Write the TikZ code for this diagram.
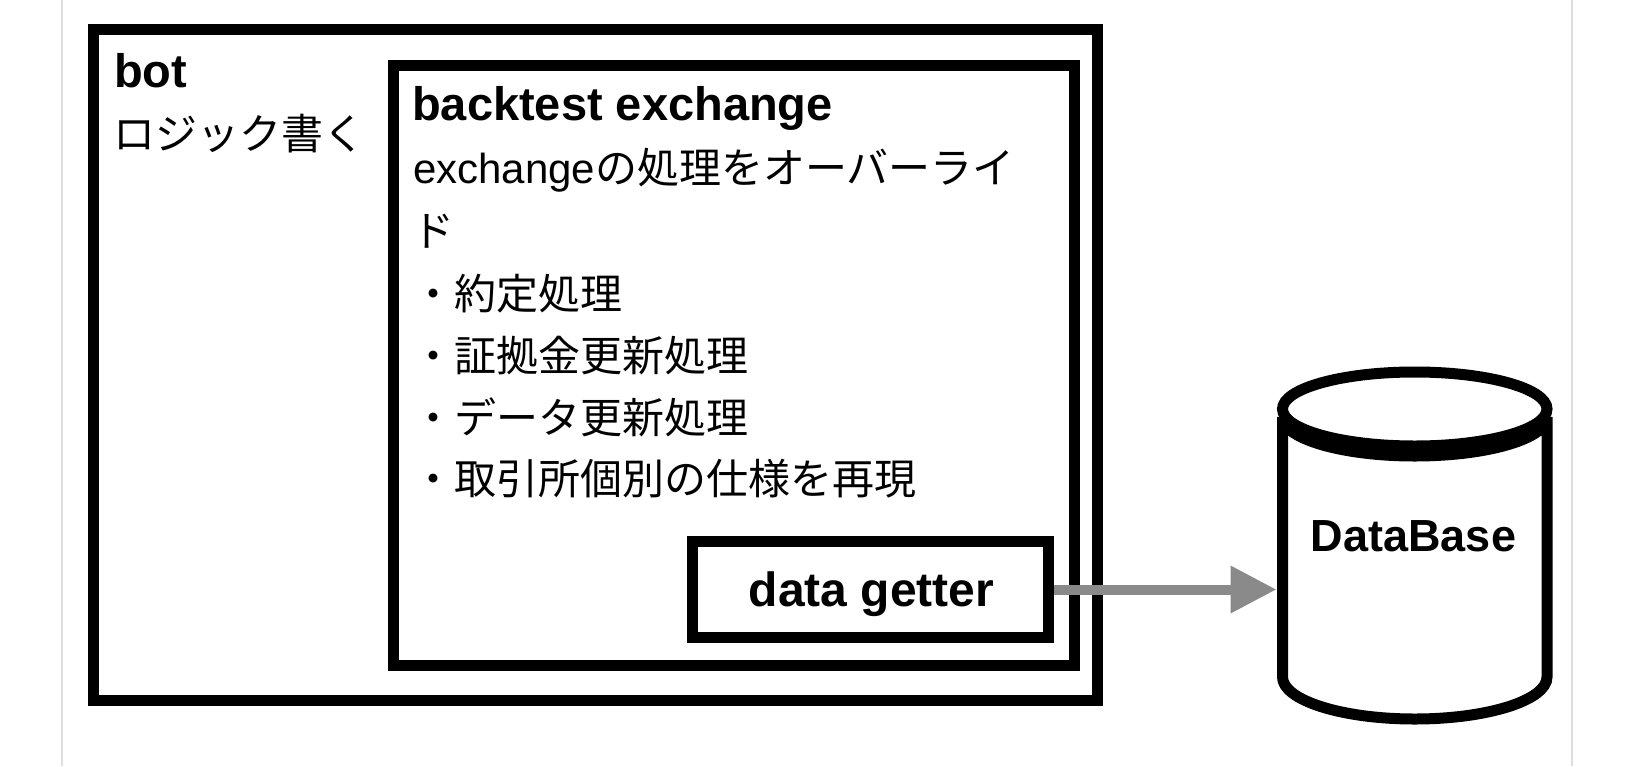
\documentclass[tikz,border=0pt]{standalone}
\usepackage{fontspec}
\setmainfont{Liberation Sans}
\newfontfamily\jp{Noto Sans CJK JP}
\usetikzlibrary{arrows.meta}
\definecolor{arrowgray}{HTML}{8A8A8A}
\definecolor{framegray}{HTML}{DDDDDD}
\tikzset{
  boxthick/.style={draw=black, line width=11pt, fill=white, rectangle, inner sep=0pt},
  txt/.style={inner sep=0pt, anchor=base west},
  jptxt/.style={txt, font=\jp\fontsize{42}{50}\selectfont},
  lattxt/.style={txt, font=\fontsize{42}{50}\selectfont},
  titletxt/.style={txt, font=\bfseries\fontsize{47}{56}\selectfont},
  flow/.style={draw=arrowgray, line width=10pt, -{Triangle[length=46pt,width=45pt]}},
  cyl/.style={draw=black, line width=11pt, fill=white},
}
\begin{document}
\begin{tikzpicture}[x=1pt,y=-1pt]
\useasboundingbox (0,0) rectangle (1631,766);
\fill[white] (0,0) rectangle (1631,766);
\draw[framegray, line width=2pt] (62,0) -- (62,766);
\draw[framegray, line width=2pt] (1572,0) -- (1572,766);

% boxes
\node[boxthick, minimum width=1004pt, minimum height=671pt] (bot) at (595.5,365) {};
\node[boxthick, minimum width=681.5pt, minimum height=600.5pt] (bte) at (733.75,365.25) {};
\node[boxthick, minimum width=356pt, minimum height=96pt] (dg) at (870.5,589.5) {};
\node[font=\bfseries\fontsize{48}{56}\selectfont, inner sep=0pt, anchor=base] (dgl) at (871.5,606) {data getter};

% bot texts
\node[titletxt] (bott) at (114,87) {bot};
\node[jptxt] (botd) at (113,149) {ロジック書く};

% backtest exchange texts
\node[titletxt] (btt) at (412,120) {backtest exchange};
\node[lattxt] (btd1) at (413,183) {exchange{\jp の処理をオーバーライ}};
\node[jptxt] (btd2) at (412,246) {ド};
\node[jptxt] (btd3) at (412,309) {・約定処理};
\node[jptxt] (btd4) at (412,371) {・証拠金更新処理};
\node[jptxt] (btd5) at (412,433) {・データ更新処理};
\node[jptxt] (btd6) at (412,494) {・取引所個別の仕様を再現};

% cylinder
\draw[cyl] (1547,417) -- (1547,677)
  .. controls (1547,700.2) and (1487.79,719) .. (1414.75,719)
  .. controls (1341.71,719) and (1282.5,700.2) .. (1282.5,677)
  -- (1282.5,417)
  .. controls (1282.5,438.54) and (1341.71,456) .. (1414.75,456)
  .. controls (1487.79,456) and (1547,438.54) .. (1547,417) -- cycle;
\draw[cyl] (1414.75,409) ellipse [x radius=132.25, y radius=37];
\node[minimum width=276.5pt, minimum height=360pt, inner sep=0pt, outer sep=0pt] (db) at (1414.75,545) {};
\node[font=\bfseries\fontsize{45}{54}\selectfont, inner sep=0pt, anchor=base] (dbl) at (1413.5,551) {DataBase};

% connector
\draw[flow] (dg.east) -- (db.west |- dg.east);
\end{tikzpicture}
\end{document}
